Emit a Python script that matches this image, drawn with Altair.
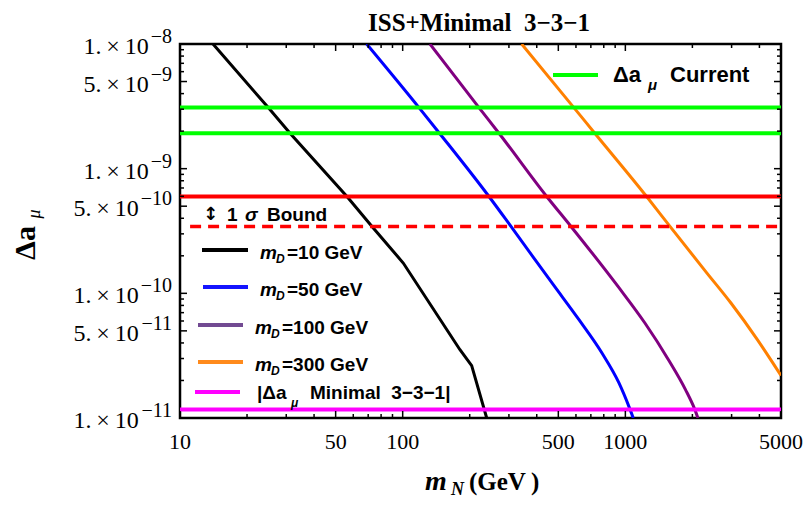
import altair as alt
import pandas as pd

# ---------------- data ----------------
mN_mD10 = [14.07, 24.9, 31.2, 56.2, 72.8, 100.6, 180.8, 204.1, 238.4]
amu_mD10 = [1e-8, 3.09e-9, 1.925e-9, 5.98e-10, 3.44e-10, 1.75e-10, 3.53e-11, 2.63e-11, 1e-11]

mN_mD50 = [68.93, 118.4, 146.3, 244.1, 306.4, 474.6, 618.9, 785.1, 935.9, 1043.2, 1085]
amu_mD50 = [1e-8, 3.09e-9, 1.925e-9, 5.98e-10, 3.44e-10, 1.172e-10, 6.14e-11, 3.32e-11,
            1.91e-11, 1.205e-11, 1e-11]

mN_mD100 = [132.6, 220.1, 270.7, 443.3, 569.9, 926.6, 1224, 1561, 1862, 2043, 2118]
amu_mD100 = [1e-8, 3.09e-9, 1.925e-9, 5.98e-10, 3.44e-10, 1.136e-10, 5.78e-11, 2.938e-11,
             1.69e-11, 1.19e-11, 1e-11]

mN_mD300 = [342.2, 587.1, 728.9, 1246, 1586, 2325, 2980, 3915, 5000]
amu_mD300 = [1e-8, 3.09e-9, 1.925e-9, 5.98e-10, 3.44e-10, 1.454e-10, 8.36e-11, 4.25e-11, 2.19e-11]

series_names = ["mD=10 GeV", "mD=50 GeV", "mD=100 GeV", "mD=300 GeV"]
series_colors = ["#000000", "#0000ff", "#800080", "#ff8000"]
legend_colors = ["#000000", "#1414ff", "#724a92", "#ff8a1c"]
legend_values = ["=10 GeV", "=50 GeV", "=100 GeV", "=300 GeV"]

current_band = [3.09e-9, 1.925e-9]
sigma_upper = [5.98e-10]
sigma_lower = [3.44e-10]
minimal_331 = [1.17e-11]

x_label_values = [10, 50, 100, 500, 1000, 5000]
x_label_text = ["10", "50", "100", "500", "1000", "5000"]
x_minor_values = [20, 30, 40, 60, 70, 80, 90, 200, 300, 400, 600, 700, 800, 900, 2000, 3000, 4000]
y_label_values = [1e-8, 5e-9, 1e-9, 5e-10, 1e-10, 5e-11, 1e-11]
y_label_mant = ["1.", "5.", "1.", "5.", "1.", "5.", "1."]
y_label_exp = ["8", "9", "9", "10", "10", "11", "11"]
y_minor_values = [9e-9, 8e-9, 7e-9, 6e-9, 4e-9, 3e-9, 2e-9,
                  9e-10, 8e-10, 7e-10, 6e-10, 4e-10, 3e-10, 2e-10,
                  9e-11, 8e-11, 7e-11, 6e-11, 4e-11, 3e-11, 2e-11]

# ---------------- chart ----------------
W, H = 601, 374
SERIF = "Liberation Serif"
SANS = "Liberation Sans"

xs = alt.Scale(type="log", domain=[10, 5000])
ys = alt.Scale(type="log", domain=[1e-11, 1e-8])

def curve_df(names, xlists, ylists):
    rows = []
    for name, xv, yv in zip(names, xlists, ylists):
        for a, b in zip(xv, yv):
            rows.append({"series": name, "mN": a, "amu": b})
    return pd.DataFrame(rows)

color_scale = alt.Scale(domain=series_names, range=series_colors)

black_curve = alt.Chart(curve_df(series_names[:1], [mN_mD10], [amu_mD10])).mark_line(
    strokeWidth=3, clip=True).encode(
    x=alt.X("mN:Q", scale=xs, axis=None),
    y=alt.Y("amu:Q", scale=ys, axis=None),
    color=alt.Color("series:N", scale=color_scale, legend=None),
)
smooth_curves = alt.Chart(curve_df(series_names[1:], [mN_mD50, mN_mD100, mN_mD300],
                                   [amu_mD50, amu_mD100, amu_mD300])).mark_line(
    strokeWidth=3, clip=True, interpolate="monotone").encode(
    x=alt.X("mN:Q", scale=xs, axis=None),
    y=alt.Y("amu:Q", scale=ys, axis=None),
    color=alt.Color("series:N", scale=color_scale, legend=None),
)

def hrule(vals, color, width=4):
    return alt.Chart(pd.DataFrame({"amu": vals})).mark_rule(color=color, strokeWidth=width).encode(
        y=alt.Y("amu:Q", scale=ys, axis=None))

green = hrule(current_band, "#00ff00")
red = hrule(sigma_upper, "#ff0000")
magenta = hrule(minimal_331, "#ff00ff")
dashed = alt.Chart(pd.DataFrame({"amu": sigma_lower, "x0": [11.1], "x1": [4980]})).mark_rule(
    color="#ff0000", strokeWidth=3.5, strokeDash=[11, 7]).encode(
    y=alt.Y("amu:Q", scale=ys, axis=None),
    x=alt.X("x0:Q", scale=xs, axis=None), x2="x1:Q")

# inner frame ticks
def xticks(vals, length):
    base = alt.Chart(pd.DataFrame({"t": vals}))
    out = []
    for y0, y1 in [(H, H - length), (0, length)]:
        out.append(base.mark_rule(color="black", strokeWidth=1.5).encode(
            x=alt.X("t:Q", scale=xs, axis=None), y=alt.value(y0), y2=alt.value(y1)))
    return out

def yticks(vals, length):
    base = alt.Chart(pd.DataFrame({"t": vals}))
    out = []
    for x0, x1 in [(0, length), (W, W - length)]:
        out.append(base.mark_rule(color="black", strokeWidth=1.5).encode(
            y=alt.Y("t:Q", scale=ys, axis=None), x=alt.value(x0), x2=alt.value(x1)))
    return out

ticks = xticks(x_label_values, 7) + xticks(x_minor_values, 4) + yticks(y_label_values, 7) + yticks(y_minor_values, 4)

# x tick labels
xlab = alt.Chart(pd.DataFrame({"v": x_label_values, "s": x_label_text})).mark_text(
    align="center", baseline="middle", font=SERIF, fontSize=22, color="black").encode(
    x=alt.X("v:Q", scale=xs, axis=None), y=alt.value(H + 24), text="s:N")

# y tick labels (mantissa x 10 ^ exponent)
ylab_layers = []
df_ylab = pd.DataFrame({"v": y_label_values,
                        "main": [m + "\u2009×\u200910" for m in y_label_mant],
                        "sup": ["−" + e for e in y_label_exp],
                        "nd": [len(e) for e in y_label_exp]})
for nd in (1, 2):
    sub = df_ylab[df_ylab["nd"] == nd]
    supw = 11.3 + 10 * nd
    base = alt.Chart(sub)
    ylab_layers.append(base.mark_text(align="right", baseline="middle", font=SERIF, fontSize=24,
                                      dy=3, color="black").encode(
        y=alt.Y("v:Q", scale=ys, axis=None), x=alt.value(-8 - supw - 2), text="main:N"))
    ylab_layers.append(base.mark_text(align="right", baseline="middle", font=SERIF, fontSize=20,
                                      dy=-7, color="black").encode(
        y=alt.Y("v:Q", scale=ys, axis=None), x=alt.value(-8), text="sup:N"))

one = pd.DataFrame({"k": [0]})

def txt(s, x, y, size, font=SANS, weight="bold", style="normal", align="left",
        baseline="middle", color="black", angle=0):
    return alt.Chart(one).mark_text(text=s, font=font, fontSize=size, fontWeight=weight,
                                    fontStyle=style, align=align, baseline=baseline,
                                    color=color, angle=angle).encode(
        x=alt.value(x), y=alt.value(y))

def seg(x1, x2, y, color, width=4):
    return alt.Chart(one).mark_rule(color=color, strokeWidth=width).encode(
        x=alt.value(x1), x2=alt.value(x2), y=alt.value(y))

annot = [
    # title
    txt("ISS+Minimal\u00a0 3−3−1", 299, -21, 25, font=SERIF, align="center"),
    # y title
    txt("Δa", -145, 199, 30, font=SERIF, align="center", baseline="alphabetic", angle=270),
    txt("μ", -140, 170, 18, font=SERIF, weight="normal", style="italic", align="center",
        baseline="alphabetic", angle=270),
    # x title
    txt("m", 245, 446, 28, font=SERIF, style="italic", baseline="alphabetic"),
    txt("N", 271, 451, 18, font=SERIF, style="italic", baseline="alphabetic"),
    txt("(GeV\u2009)", 289, 446, 25, font=SERIF, baseline="alphabetic"),
    # top-right legend
    seg(373, 418, 31, "#00ff00"),
    txt("Δa", 433, 31, 22),
    txt("μ", 468, 41, 15, style="italic"),
    txt("Current", 490, 31, 22),
    # 1 sigma label
    txt("↕", 23, 171, 18, font="DejaVu Sans"),
    txt("1", 47, 171, 19),
    txt("σ", 65, 171, 19, style="italic"),
    txt("Bound", 87, 171, 19),
]

leg_rows = [(22, 68, 206, 80), (23, 68, 243, 80), (18, 63, 281, 75), (18, 63, 318, 75)]
for (x1, x2, yy, tx), col, val in zip(leg_rows, legend_colors, legend_values):
    annot.append(seg(x1, x2, yy, col))
    annot.append(txt("m", tx, yy + 3, 19, style="italic"))
    annot.append(txt("D", tx + 16, yy + 9, 12, style="italic"))
    annot.append(txt(val, tx + 27, yy + 3, 19))

annot += [
    seg(15, 60, 348, "#ff00ff"),
    txt("|Δa", 77, 349, 19),
    txt("μ", 111, 359, 12, style="italic"),
    txt("Minimal\u00a0 3−3−1|", 130, 349, 19),
]

chart = alt.layer(black_curve, smooth_curves, green, red, dashed, magenta, *ticks, xlab,
                  *ylab_layers, *annot).properties(
    width=W, height=H,
    autosize=alt.AutoSizeParams(type="none"),
    padding={"left": 172, "top": 36, "right": 22, "bottom": 82},
).configure_view(stroke="black", strokeWidth=2.5)

chart.save("out.html", embed_options={"renderer": "svg", "actions": False})
